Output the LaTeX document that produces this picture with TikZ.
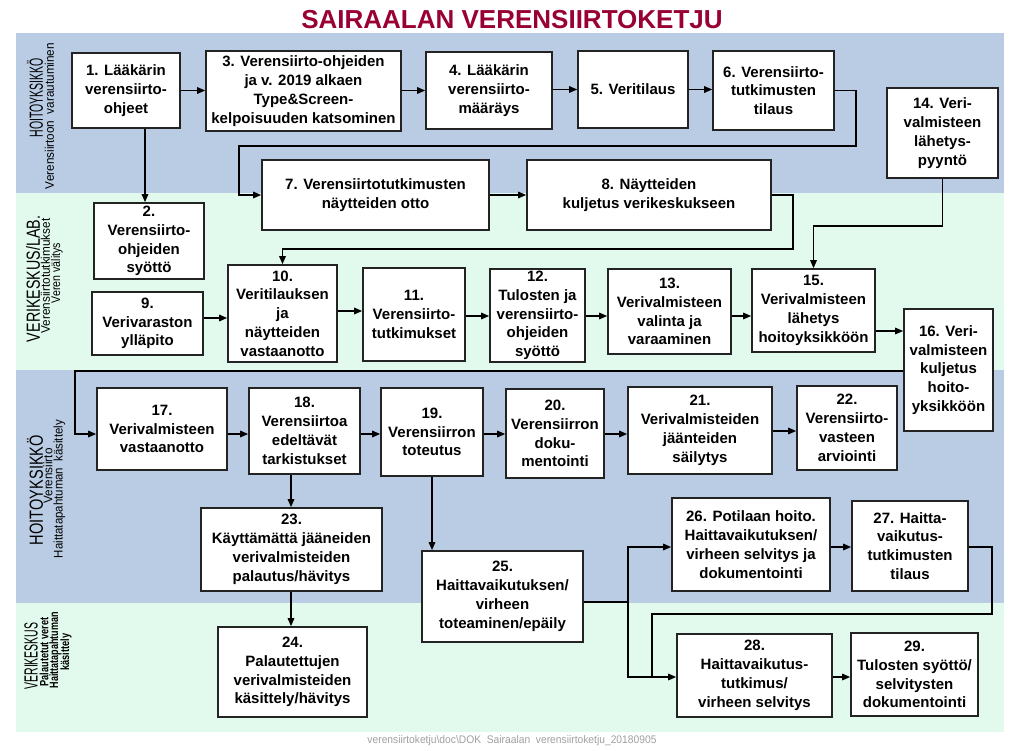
\documentclass[tikz,border=0pt]{standalone}
\usepackage{fontspec}
\setmainfont{Liberation Sans}
\usepackage{graphicx}
\usetikzlibrary{arrows.meta}
\definecolor{bandblue}{RGB}{185,204,228}
\definecolor{bandmint}{RGB}{226,249,238}
\definecolor{titlered}{RGB}{153,0,51}
\definecolor{footgray}{RGB}{160,160,160}
\definecolor{boxline}{RGB}{35,35,35}
\tikzset{
 box/.style={draw=boxline, line width=1.6pt, fill=white, align=center, inner sep=0pt, font=\bfseries\fontsize{15}{18.8}\selectfont},
 arr/.style={line width=1.5pt, -{Triangle[length=8pt,width=6.5pt]}},
 ln/.style={line width=1.5pt},
 lbl/.style={rotate=90, inner sep=0pt},
}
\newcommand\bx[6]{%
  \pgfmathsetmacro\bxw{#4-#2}\pgfmathsetmacro\bxh{#5-#3}%
  \pgfmathsetmacro\bxx{(#2+#4)/2}\pgfmathsetmacro\bxy{(#3+#5)/2}%
  \node[box, minimum width=\bxw pt, minimum height=\bxh pt] (#1) at (\bxx,\bxy) {#6};}
\newcommand\lb[6]{% name x y length size text
  \node[lbl] (#1) at (#2,#3) {\resizebox{#4pt}{\height}{\fontsize{#5}{#5}\selectfont #6}};}
\begin{document}
\begin{tikzpicture}[x=1pt,y=-1pt]
\useasboundingbox (0,0) rectangle (1024,751);
\fill[white] (0,0) rectangle (1024,751);
% bands
\fill[bandblue] (16,33) rectangle (1004,193);
\fill[bandmint] (16,193) rectangle (1004,370);
\fill[bandblue] (16,370) rectangle (1004,603);
\fill[bandmint] (16,603) rectangle (1004,732);
% title and footer
\node[font=\bfseries\fontsize{26}{26}\selectfont, text=titlered, inner sep=0pt] (title) at (512,20) {SAIRAALAN VERENSIIRTOKETJU};
\node[text=footgray, inner sep=0pt] (foot) at (512,741) {\resizebox{289pt}{\height}{\fontsize{11}{11}\selectfont verensiirtoketju\textbackslash doc\textbackslash DOK\ \ Sairaalan\ \ verensiirtoketju\_20180905}};
% band labels
\lb{l1a}{35}{98}{79}{19}{HOITOYKSIKKÖ}
\lb{l1b}{49.5}{116}{146}{12.5}{Verensiirtoon\ \ varautuminen}
\lb{l2a}{33}{279}{126}{19}{VERIKESKUS/LAB.}
\lb{l2b}{45.5}{276}{115}{12.5}{Verensiirtotutkimukset}
\lb{l2c}{57}{273}{60}{12.5}{Veren välitys}
\lb{l3a}{35}{490}{110}{19}{HOITOYKSIKKÖ}
\lb{l3b}{48}{476}{55}{12.5}{Verensiirto}
\lb{l3c}{59.5}{489}{138}{12.5}{Haittatapahtuman\ \ käsittely}
\lb{l4a}{31}{656}{67}{19}{VERIKESKUS}
\lb{l4b}{44}{652}{69}{12}{\bfseries Palautetut veret}
\lb{l4c}{55}{650}{76}{12}{\bfseries Haittatapahtuman}
\lb{l4d}{66}{652}{37}{12}{\bfseries käsittely}
% boxes
\bx{b1}{72}{53}{180}{128}{1. Lääkärin\\verensiirto-\\ohjeet}
\bx{b3}{206}{51}{401}{131}{3. Verensiirto-ohjeiden\\ja v. 2019 alkaen\\Type\&Screen-\\kelpoisuuden katsominen}
\bx{b4}{426}{52}{552}{129}{4. Lääkärin\\verensiirto-\\määräys}
\bx{b5}{578}{51}{688}{128}{5. Veritilaus}
\bx{b6}{713}{51}{834}{130}{6. Verensiirto-\\tutkimusten\\tilaus}
\bx{b14}{887}{88}{998}{178}{14. Veri-\\valmisteen\\lähetys-\\pyyntö}
\bx{b7}{262}{160}{489}{230}{7. Verensiirtotutkimusten\\näytteiden otto}
\bx{b8}{527}{160}{771}{230}{8. Näytteiden\\kuljetus verikeskukseen}
\bx{b2}{94}{203}{204}{279}{2.\\Verensiirto-\\ohjeiden\\syöttö}
\bx{b9}{92}{292}{203}{355}{9.\\Verivaraston\\ylläpito}
\bx{b10}{228}{265}{337}{362}{10.\\Veritilauksen\\ja\\näytteiden\\vastaanotto}
\bx{b11}{363}{268}{465}{361}{11.\\Verensiirto-\\tutkimukset}
\bx{b12}{490}{269}{585}{362}{12.\\Tulosten ja\\verensiirto-\\ohjeiden\\syöttö}
\bx{b13}{608}{269}{731}{354}{13.\\Verivalmisteen\\valinta ja\\varaaminen}
\bx{b15}{752}{269}{875}{352}{15.\\Verivalmisteen\\lähetys\\hoitoyksikköön}
\bx{b16}{904}{309}{993}{431}{16. Veri-\\valmisteen\\kuljetus\\hoito-\\yksikköön}
\bx{b17}{97}{388}{227}{470}{17.\\Verivalmisteen\\vastaanotto}
\bx{b18}{249}{388}{360}{474}{18.\\Verensiirtoa\\edeltävät\\tarkistukset}
\bx{b19}{381}{388}{483}{476}{19.\\Verensiirron\\toteutus}
\bx{b20}{506}{389}{604}{478}{20.\\Verensiirron\\doku-\\mentointi}
\bx{b21}{628}{387}{772}{474}{21.\\Verivalmisteiden\\jäänteiden\\säilytys}
\bx{b22}{797}{386}{897}{470}{22.\\Verensiirto-\\vasteen\\arviointi}
\bx{b23}{201}{508}{382}{591}{23.\\Käyttämättä jääneiden\\verivalmisteiden\\palautus/hävitys}
\bx{b24}{218}{627}{367}{717}{24.\\Palautettujen\\verivalmisteiden\\käsittely/hävitys}
\bx{b25}{422}{551}{583}{642}{25.\\Haittavaikutuksen/\\virheen\\toteaminen/epäily}
\bx{b26}{672}{498}{830}{591}{26. Potilaan hoito.\\Haittavaikutuksen/\\virheen selvitys ja\\dokumentointi}
\bx{b27}{852}{501}{968}{591}{27. Haitta-\\vaikutus-\\tutkimusten\\tilaus}
\bx{b28}{677}{634}{832}{717}{28.\\Haittavaikutus-\\tutkimus/\\virheen selvitys}
\bx{b29}{851}{633}{978}{716}{29.\\Tulosten syöttö/\\selvitysten\\dokumentointi}
% helper coordinates
\coordinate (x145) at (145,0);
\coordinate (x291) at (291,0);
\coordinate (y146) at (0,146);
\coordinate (x856) at (856,0);
\coordinate (x239) at (239,0);
\coordinate (x793) at (793,0);
\coordinate (y249) at (0,249);
\coordinate (y226) at (0,226);
\coordinate (y318) at (0,318);
\coordinate (y311) at (0,311);
\coordinate (y316) at (0,316);
\coordinate (y331) at (0,331);
\coordinate (y371) at (0,371);
\coordinate (x75) at (75,0);
\coordinate (y434) at (0,434);
\coordinate (y431) at (0,431);
\coordinate (split) at (628,602);
\coordinate (y547) at (0,547);
\coordinate (y677) at (0,677);
\coordinate (x992) at (992,0);
\coordinate (y614) at (0,614);
\coordinate (x652) at (652,0);
% connectors row 1
\draw[arr] (b1.east) -- (b1.east -| b3.west);
\draw[arr] (b3.east |- b4.west) -- (b4.west);
\draw[arr] (b4.east |- b5.west) -- (b5.west);
\draw[arr] (b5.east) -- (b5.east -| b6.west);
\draw[arr] (b6.east) -- (b6.east -| x856) -- (x856 |- y146) -- (x239 |- y146) -- (x239 |- b7.west) -- (b7.west);
\draw[arr] (b1.south -| x145) -- (b2.north -| x145);
\draw[arr] (b7.east) -- (b8.west);
\draw[arr] (b8.east) -- (b8.east -| x793) -- (x793 |- y249) -- (b10.north |- y249) -- (b10.north);
\draw[arr] (b14.south) -- (b14.south |- y226) -- (b15.north |- y226) -- (b15.north);
% row 2
\draw[arr] (b9.east |- y318) -- (b10.west |- y318);
\draw[arr] (b10.east |- y311) -- (b11.west |- y311);
\draw[arr] (b11.east |- y316) -- (b12.west |- y316);
\draw[arr] (b12.east |- y316) -- (b13.west |- y316);
\draw[arr] (b13.east |- y316) -- (b15.west |- y316);
\draw[arr] (b15.east |- y331) -- (b16.west |- y331);
\draw[arr] (b16.west |- y371) -- (x75 |- y371) -- (x75 |- y434) -- (b17.west |- y434);
% row 3
\draw[arr] (b17.east |- y434) -- (b18.west |- y434);
\draw[arr] (b18.east |- y434) -- (b19.west |- y434);
\draw[arr] (b19.east |- y434) -- (b20.west |- y434);
\draw[arr] (b20.east |- y434) -- (b21.west |- y434);
\draw[arr] (b21.east |- y431) -- (b22.west |- y431);
\draw[arr] (b18.south -| x291) -- (b23.north -| x291);
\draw[arr] (b23.south -| x291) -- (b24.north -| x291);
\draw[arr] (b19.south) -- (b19.south |- b25.north);
% lower right
\draw[ln] (b25.east |- split) -- (split);
\draw[arr] (split) -- (split |- y547) -- (b26.west |- y547);
\draw[arr] (split) -- (split |- y677) -- (b28.west |- y677);
\draw[arr] (b26.east |- y547) -- (b27.west |- y547);
\draw[ln] (b27.east |- y547) -- (x992 |- y547) -- (x992 |- y614) -- (x652 |- y614) -- (x652 |- y677);
\draw[arr] (b28.east |- y677) -- (b29.west |- y677);
\end{tikzpicture}
\end{document}
